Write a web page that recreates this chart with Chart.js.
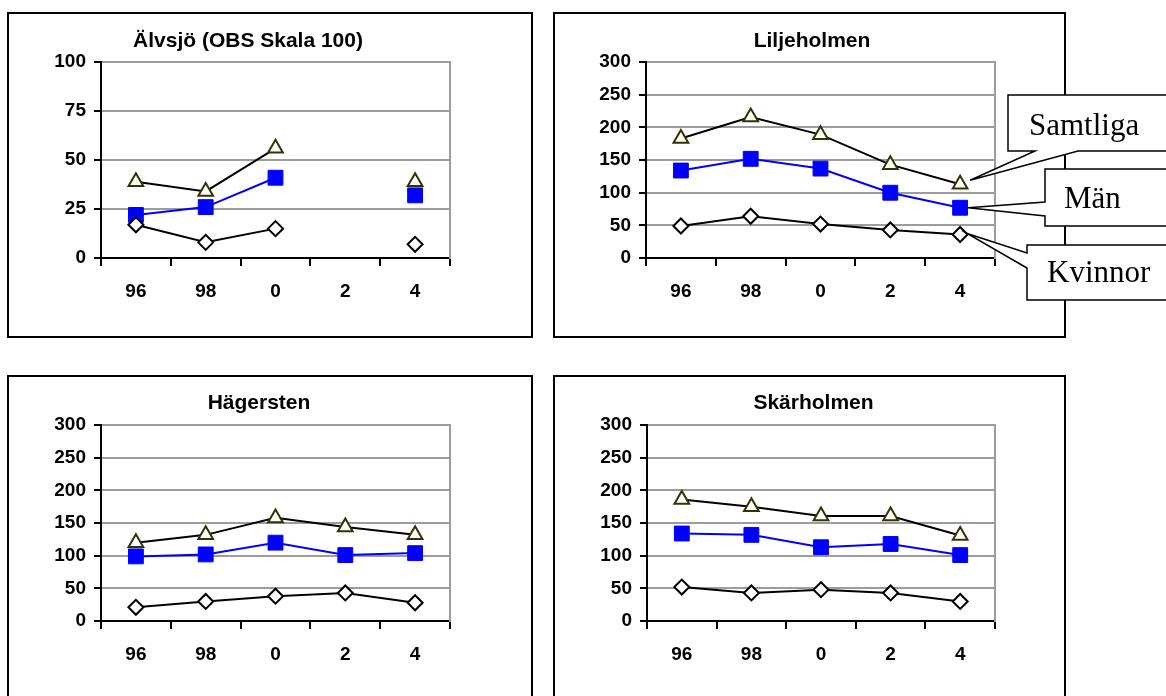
<!DOCTYPE html>
<html>
<head>
<meta charset="utf-8">
<script src="https://cdn.jsdelivr.net/npm/chart.js@4.4.1/dist/chart.umd.min.js"></script>
<style>
  body { margin: 0; background: #fff; width: 1166px; height: 696px; overflow: hidden; position: relative; }
  .box { position: absolute; border: 2px solid #000; box-sizing: border-box; }
  canvas { position: absolute; }
</style>
</head>
<body>
<div class="box" style="left:7px;top:12px;width:526px;height:326px"></div>
<div class="box" style="left:553px;top:12px;width:513px;height:326px"></div>
<div class="box" style="left:7px;top:375px;width:526px;height:340px"></div>
<div class="box" style="left:553px;top:375px;width:513px;height:340px"></div>

<canvas id="alvsjo" width="521" height="321" style="left:9px;top:14px"></canvas>
<canvas id="liljeholmen" width="611" height="321" style="left:555px;top:14px"></canvas>
<canvas id="hagersten" width="521" height="319" style="left:9px;top:377px"></canvas>
<canvas id="skarholmen" width="509" height="319" style="left:555px;top:377px"></canvas>

<script>
// years on the x axis
var years = ["96", "98", "0", "2", "4"];
var ticks100 = [0, 25, 50, 75, 100];
var ticks300 = [0, 50, 100, 150, 200, 250, 300];

// Älvsjö (no value for 2)
var alvsjoSamtliga = [39, 34, 56, null, 39];
var alvsjoMan = [22, 26, 41, null, 32];
var alvsjoKvinnor = [17, 8, 15, null, 7];

// Liljeholmen
var liljeSamtliga = [183, 216, 189, 143, 113];
var liljeMan = [134, 152, 137, 100, 77];
var liljeKvinnor = [49, 64, 52, 43, 36];

// Hägersten
var hagerSamtliga = [120, 132, 158, 144, 132];
var hagerMan = [99, 102, 120, 101, 104];
var hagerKvinnor = [21, 30, 38, 43, 28];

// Skärholmen
var skarSamtliga = [186, 175, 161, 161, 131];
var skarMan = [134, 132, 113, 118, 101];
var skarKvinnor = [52, 43, 48, 43, 30];

Chart.defaults.font.family = "'Liberation Sans', Arial, sans-serif";
Chart.defaults.font.weight = "bold";
Chart.defaults.color = "#000";

var gridGray = "#9c9c9c";

// callout boxes next to the last points of Liljeholmen
var calloutPlugin = {
    id: "callouts",
    afterDraw: function (chart) {
        var ctx = chart.ctx;
        // [dataset index, box x, box y, box h, text x, text baseline, wedge side, base a, base b, tip dx, tip dy]
        var callouts = [
            [0, 453, 81, 56, 474, 121, "bottom", 480, 523, 10, -4],
            [1, 490, 155, 57, 509, 194, "left", 188, 202, 8, 0],
            [2, 472, 231, 55, 492, 268, "left", 239, 254, 7, -1]
        ];
        ctx.save();
        callouts.forEach(function (c) {
            var pt = chart.getDatasetMeta(c[0]).data[4];
            var tipX = pt.x + c[9], tipY = pt.y + c[10];
            var x = c[1], y = c[2], w = 400, h = c[3];
            ctx.beginPath();
            if (c[6] === "bottom") {
                ctx.moveTo(x, y);
                ctx.lineTo(x + w, y);
                ctx.lineTo(x + w, y + h);
                ctx.lineTo(c[8], y + h);
                ctx.lineTo(tipX, tipY);
                ctx.lineTo(c[7], y + h);
                ctx.lineTo(x, y + h);
            } else {
                ctx.moveTo(x, y);
                ctx.lineTo(x + w, y);
                ctx.lineTo(x + w, y + h);
                ctx.lineTo(x, y + h);
                ctx.lineTo(x, c[8]);
                ctx.lineTo(tipX, tipY);
                ctx.lineTo(x, c[7]);
            }
            ctx.closePath();
            ctx.fillStyle = "#fff";
            ctx.fill();
            ctx.lineWidth = 1.5;
            ctx.strokeStyle = "#000";
            ctx.stroke();
            ctx.fillStyle = "#000";
            ctx.font = "31px 'Liberation Serif', 'Times New Roman', serif";
            ctx.textBaseline = "alphabetic";
            ctx.textAlign = "left";
            ctx.fillText(chart.data.datasets[c[0]].label, c[4], c[5]);
        });
        ctx.restore();
    }
};

function makeChart(id, title, samtliga, man, kvinnor, yTicks, pad, extraPlugins) {
    var yMax = yTicks[yTicks.length - 1];
    return new Chart(document.getElementById(id), {
        type: "line",
        data: {
            labels: years,
            datasets: [{
                label: "Samtliga",
                data: samtliga,
                order: 2,
                borderColor: "#000",
                borderWidth: 2,
                pointStyle: "triangle",
                pointRadius: 8.5,
                pointBorderColor: "#333300",
                pointBackgroundColor: "#fff",
                pointBorderWidth: 2
            }, {
                label: "Män",
                data: man,
                order: 1,
                borderColor: "#0000ff",
                borderWidth: 2,
                pointStyle: "rect",
                pointRadius: 10.5,
                pointBorderColor: "#0000ff",
                pointBackgroundColor: "#0000ff",
                pointBorderWidth: 1
            }, {
                label: "Kvinnor",
                data: kvinnor,
                order: 0,
                borderColor: "#000",
                borderWidth: 2,
                pointStyle: "rectRot",
                pointRadius: 7.5,
                pointBorderColor: "#000",
                pointBackgroundColor: "#fff",
                pointBorderWidth: 2
            }]
        },
        options: {
            responsive: false,
            animation: false,
            devicePixelRatio: 1,
            events: [],
            layout: { padding: { left: pad.left, right: pad.right, top: pad.top, bottom: pad.bottom } },
            plugins: {
                legend: { display: false },
                tooltip: { enabled: false },
                title: {
                    display: true,
                    text: title,
                    color: "#000",
                    font: { size: 21, weight: "bold" },
                    padding: { top: 0, bottom: pad.gap }
                }
            },
            scales: {
                x: {
                    offset: true,
                    grid: { offset: true, drawOnChartArea: false, color: "#000", lineWidth: 2, tickLength: 8 },
                    border: { color: "#000", width: 2 },
                    ticks: { font: { size: 19 }, padding: 14, maxRotation: 0 },
                    afterFit: function (s) { s.height = 50; }
                },
                y: {
                    min: 0,
                    max: yMax,
                    afterBuildTicks: function (s) {
                        s.ticks = yTicks.map(function (v) { return { value: v }; });
                    },
                    grid: { color: gridGray, lineWidth: 2, tickColor: "#000", tickWidth: 2, tickLength: 7 },
                    border: { color: "#000", width: 2 },
                    ticks: { font: { size: 19 }, padding: 8 },
                    afterFit: function (s) { s.width = 60; }
                },
                y2: {
                    position: "right",
                    min: 0,
                    max: yMax,
                    ticks: { display: false },
                    grid: { display: false },
                    border: { color: gridGray, width: 2 },
                    afterFit: function (s) { s.width = pad.y2; }
                }
            }
        },
        plugins: extraPlugins || []
    });
}

makeChart("alvsjo", "Älvsjö (OBS Skala 100)", alvsjoSamtliga, alvsjoMan, alvsjoKvinnor, ticks100,
    { left: 32, right: 75, y2: 5, top: 15, gap: 8, bottom: 27 });
makeChart("liljeholmen", "Liljeholmen", liljeSamtliga, liljeMan, liljeKvinnor, ticks300,
    { left: 31, right: 128, y2: 43, top: 15, gap: 8, bottom: 27 }, [calloutPlugin]);
makeChart("hagersten", "Hägersten", hagerSamtliga, hagerMan, hagerKvinnor, ticks300,
    { left: 32, right: 53, y2: 27, top: 14, gap: 9, bottom: 25 });
makeChart("skarholmen", "Skärholmen", skarSamtliga, skarMan, skarKvinnor, ticks300,
    { left: 32, right: 24, y2: 45, top: 14, gap: 9, bottom: 25 });
</script>
</body>
</html>
